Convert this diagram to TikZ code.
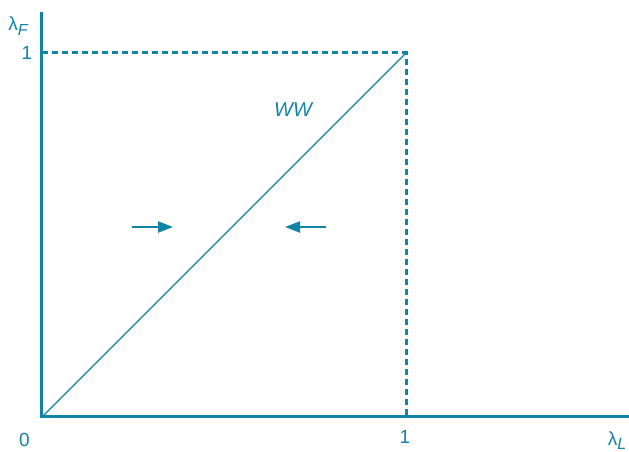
\documentclass[tikz,border=0pt]{standalone}
\usepackage{fontspec}
\setmainfont{Liberation Sans}
\usetikzlibrary{arrows.meta}
\definecolor{tealblue}{RGB}{16,132,164}
\newcommand{\lowsub}[1]{\raisebox{-4.5pt}{\fontsize{16}{18}\selectfont\itshape #1}}

\begin{document}
\begin{tikzpicture}[x=1pt, y=1pt, axis/.style = {draw=tealblue, line width=3pt}, guide/.style = {draw=tealblue, line width=3pt, dash pattern=on 6pt off 4pt}, diag/.style = {draw=tealblue, line width=1.3pt}, push/.style = {draw=tealblue, line width=2.2pt, -{Triangle[length=15pt, width=11pt]}}, lab/.style = {text=tealblue, font=\fontsize{19}{21}\selectfont, inner sep=0pt}]
    \useasboundingbox (-42,-35) rectangle (587,417);

    % 1. Punkty charakterystyczne
    \coordinate (O) at (0,0);
    \coordinate (P) at (364,364);
    \coordinate (Px) at (364,0);
    \coordinate (Py) at (0,364);
    \coordinate (ytop) at (0,405);
    \coordinate (xend) at (587,0);

    % 2. Osie
    \draw[axis] (ytop) -- (O) -- (xend);

    % 3. Linie pomocnicze i przekątna
    \draw[guide] (Py) -- (P) -- (Px);
    \draw[diag] (O) -- (P);

    % 4. Strzałki
    \coordinate (ra) at (90,190);
    \coordinate (rb) at (131,190);
    \coordinate (la) at (284,190);
    \coordinate (lb) at (243,190);
    \draw[push] (ra) -- (rb);
    \draw[push] (la) -- (lb);

    % 5. Opisy
    \node[lab] (lamF) at (-24,391) {λ\lowsub{F}};
    \node[lab] (one y) at (-15,364) {1};
    \node[lab] (zero) at (-17.5,-23) {0};
    \node[lab] (one x) at (363,-20) {1};
    \node[lab] (lamL) at (575,-23.5) {λ\lowsub{L}};
    \node[lab, font=\fontsize{20}{22}\selectfont\itshape] (ww) at (251,307) {WW};
\end{tikzpicture}
\end{document}
